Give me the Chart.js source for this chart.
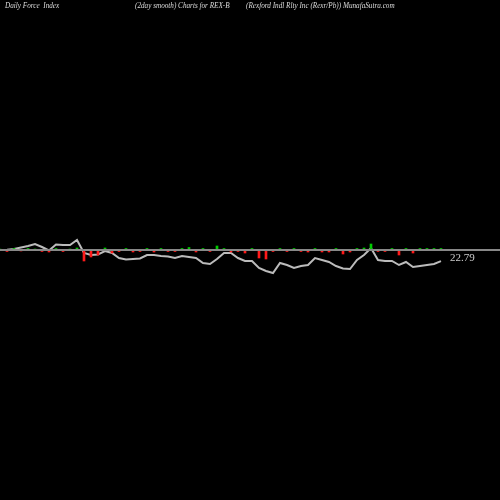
<!DOCTYPE html>
<html><head><meta charset="utf-8">
<script src="https://cdn.jsdelivr.net/npm/chart.js@4/dist/chart.umd.min.js"></script>
<style>
html,body{margin:0;padding:0;background:#000;}
#w{position:relative;width:500px;height:500px;}
.t{position:absolute;top:2px;color:#ddd;font:italic 7.2px "Liberation Serif","DejaVu Serif",serif;white-space:nowrap;}
#lab{position:absolute;left:450px;top:251px;color:#ccc;font:11px "Liberation Serif",serif;}
</style></head><body>
<div id="w"><canvas id="c" width="500" height="500"></canvas>
<div class="t" style="left:5px">Daily Force &nbsp;Index</div>
<div class="t" style="left:135px">(2day smooth) Charts for REX-B</div>
<div class="t" style="left:246px">(Rexford Indl Rlty Inc (Rexr/Pb)) MunafaSutra.com</div>
<div id="lab">22.79</div></div>
<script>
const prices=[23.9,23.92,24.0,24.15,24.3,24.5,24.2,23.85,24.45,24.4,24.4,24.9,23.6,23.4,23.45,23.8,23.6,23.1,22.95,23.0,23.05,23.4,23.4,23.3,23.25,23.1,23.3,23.2,23.1,22.6,22.5,23.0,23.6,23.6,23.1,22.8,22.8,22.1,21.8,21.6,22.6,22.4,22.1,22.3,22.4,23.1,22.9,22.7,22.3,22.05,22.0,22.9,23.4,24.1,22.9,22.8,22.8,22.4,22.7,22.2,22.3,22.4,22.5,22.79];
const force=[0.2,-0.3,0.3,-0.2,0.3,0.2,-0.3,-0.4,0.3,-0.3,0.2,0.4,-2.2,-1.4,-1.0,0.4,-0.6,-0.3,0.3,-0.4,-0.3,0.3,-0.4,0.3,-0.3,-0.3,0.3,0.5,-0.4,0.3,-0.3,0.8,0.3,-0.4,-0.3,-0.6,0.3,-1.6,-1.8,-0.3,0.3,-0.3,0.3,-0.3,-0.4,0.3,-0.4,-0.4,0.3,-0.8,-0.4,0.3,0.4,1.2,-0.3,-0.3,0.3,-1.0,0.3,-0.6,0.3,0.3,0.3,0.3];
const idx=prices.map((_,i)=>i);
new Chart(document.getElementById('c'),{
 data:{datasets:[
  {type:'line',yAxisID:'y2',data:[{x:-1,y:0},{x:75,y:0}],borderColor:'#888',borderWidth:2,pointRadius:0},
  {type:'bar',yAxisID:'y2',data:idx.map(i=>({x:i,y:force[i]})),backgroundColor:force.map(v=>v>=0?'#00cc00':'#ff1a1a'),barThickness:2},
  {type:'line',yAxisID:'y',data:idx.map(i=>({x:i,y:prices[i]})),borderColor:'#bbb',borderWidth:2,pointRadius:0,tension:0}
 ]},
 options:{responsive:false,animation:false,events:[],
  layout:{padding:0},
  plugins:{legend:{display:false},tooltip:{enabled:false}},
  scales:{
   x:{type:'linear',min:0,max:71.43,display:false,offset:false},
   y:{min:-1.1,max:48.9,display:false},
   y2:{min:-50,max:50,display:false}
  }}
});
</script></body></html>
